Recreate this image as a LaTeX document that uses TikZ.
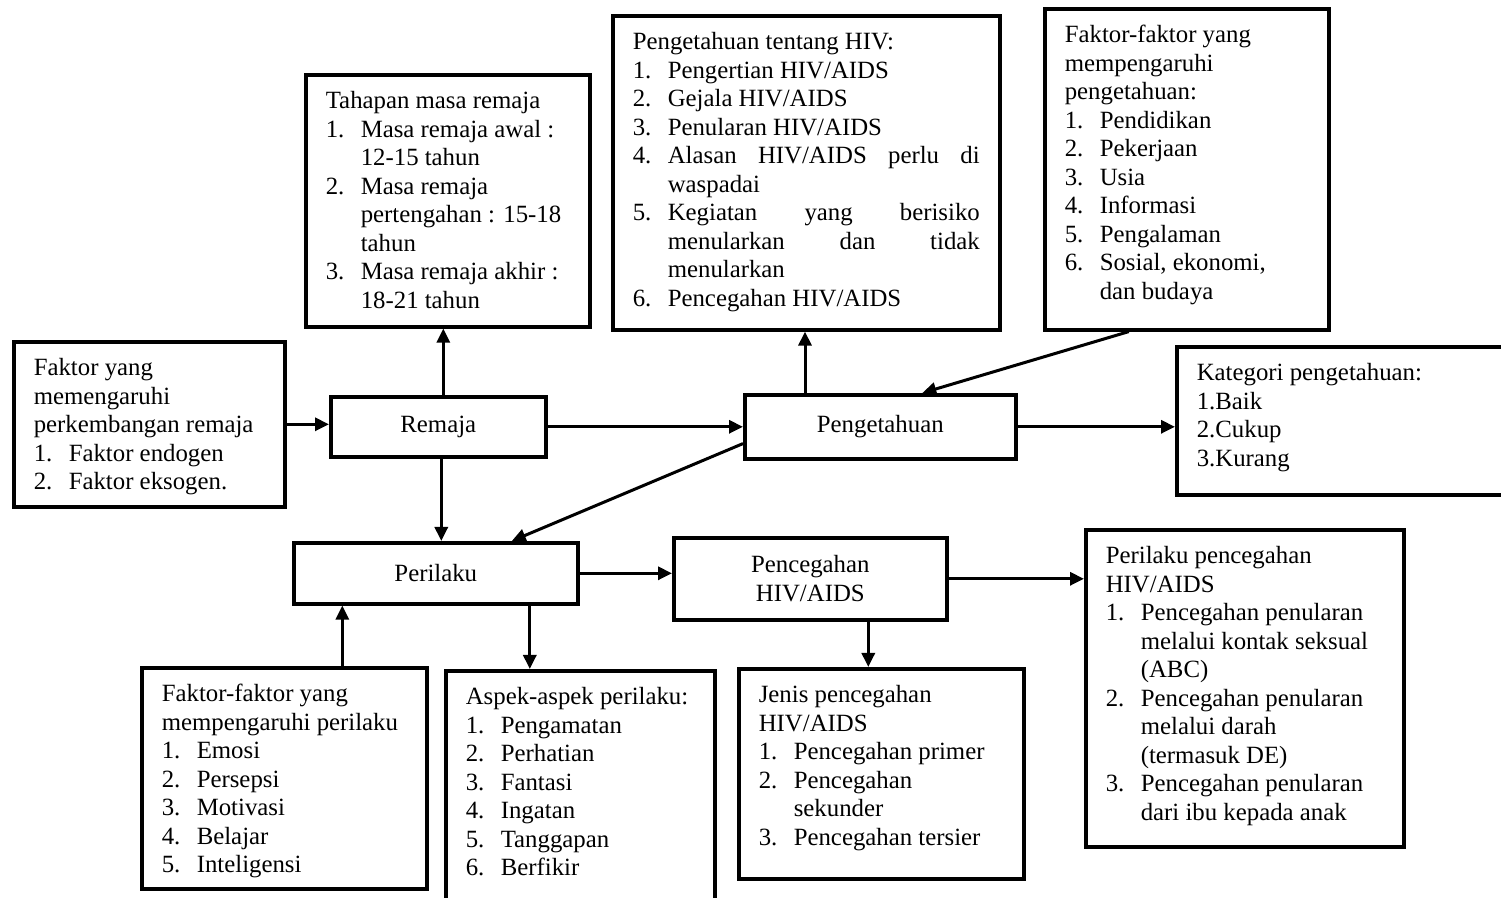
\documentclass[tikz,border=0pt]{standalone}
\usepackage{fontspec}
\setmainfont{Liberation Serif}
\usetikzlibrary{arrows.meta}
\newcommand{\itm}[1]{\makebox[17.5pt][l]{#1}}
\newcommand{\ind}{\hspace*{17.5pt}}
\newcommand{\boxtext}[3]{\begin{minipage}[c][#2][t]{#1}\raggedright\strut#3\end{minipage}}
\begin{document}
\begin{tikzpicture}[x=0.5pt,y=-0.5pt,
  every node/.style={font=\fontsize{12.4}{14.25}\selectfont},
  box/.style={draw,line width=1.8pt,anchor=north west,inner xsep=10pt,inner ysep=7pt},
  cbox/.style={draw,line width=1.8pt,anchor=north west,align=center,inner sep=0pt},
  arr/.style={-{Triangle[length=7pt,width=6.5pt]},line width=1.5pt}]
\useasboundingbox (0,0) rectangle (1501,898);
\node[box] (faktor) at (12,340) {\boxtext{115.5pt}{68.5pt}{Faktor yang\\ memengaruhi\\ perkembangan remaja\\ \itm{1.}Faktor endogen\\ \itm{2.}Faktor eksogen.}};
\node[box] (tahap) at (304,73) {\boxtext{122pt}{112pt}{Tahapan masa remaja\\ \itm{1.}Masa remaja awal :\\ \ind 12-15 tahun\\ \itm{2.}Masa remaja\\ \ind pertengahan : 15-18\\ \ind tahun\\ \itm{3.}Masa remaja akhir :\\ \ind 18-21 tahun}};
\node[box] (penghiv) at (611,14) {\boxtext{173.5pt}{143pt}{Pengetahuan tentang HIV:\\ \itm{1.}Pengertian HIV/AIDS\\ \itm{2.}Gejala HIV/AIDS\\ \itm{3.}Penularan HIV/AIDS\\ \itm{4.}\makebox[156pt][s]{Alasan HIV/AIDS perlu di}\\ \ind waspadai\\ \itm{5.}\makebox[156pt][s]{Kegiatan yang berisiko}\\ \ind\makebox[156pt][s]{menularkan dan tidak}\\ \ind menularkan\\ \itm{6.}Pencegahan HIV/AIDS}};
\node[box] (fpeng) at (1043,7) {\boxtext{122pt}{146.5pt}{Faktor-faktor yang\\ mempengaruhi\\ pengetahuan:\\ \itm{1.}Pendidikan\\ \itm{2.}Pekerjaan\\ \itm{3.}Usia\\ \itm{4.}Informasi\\ \itm{5.}Pengalaman\\ \itm{6.}Sosial, ekonomi,\\ \ind dan budaya}};
\node[box] (kat) at (1175,345) {\boxtext{157.5pt}{60pt}{Kategori pengetahuan:\\ 1.Baik\\ 2.Cukup\\ 3.Kurang}};
\node[cbox,minimum width=107.5pt,minimum height=30pt] (remaja) at (329,395) {Remaja};
\node[cbox,minimum width=135.5pt,minimum height=32pt] (penget) at (743,393) {Pengetahuan};
\node[cbox,minimum width=142pt,minimum height=30.5pt] (perilaku) at (292,541) {Perilaku};
\node[cbox,minimum width=136.5pt,minimum height=41pt] (cegah) at (672,536) {Pencegahan\\ HIV/AIDS};
\node[box] (ppenc) at (1084,528) {\boxtext{139pt}{144.5pt}{Perilaku pencegahan\\ HIV/AIDS\\ \itm{1.}Pencegahan penularan\\ \ind melalui kontak seksual\\ \ind (ABC)\\ \itm{2.}Pencegahan penularan\\ \ind melalui darah\\ \ind (termasuk DE)\\ \itm{3.}Pencegahan penularan\\ \ind dari ibu kepada anak}};
\node[box] (fper) at (140,666) {\boxtext{122.5pt}{96.5pt}{Faktor-faktor yang\\ mempengaruhi perilaku\\ \itm{1.}Emosi\\ \itm{2.}Persepsi\\ \itm{3.}Motivasi\\ \itm{4.}Belajar\\ \itm{5.}Inteligensi}};
\node[box] (aspek) at (444,669) {\boxtext{114.5pt}{116.5pt}{Aspek-aspek perilaku:\\ \itm{1.}Pengamatan\\ \itm{2.}Perhatian\\ \itm{3.}Fantasi\\ \itm{4.}Ingatan\\ \itm{5.}Tanggapan\\ \itm{6.}Berfikir}};
\node[box] (jenis) at (737,667) {\boxtext{122.5pt}{91pt}{Jenis pencegahan\\ HIV/AIDS\\ \itm{1.}Pencegahan primer\\ \itm{2.}Pencegahan\\ \ind sekunder\\ \itm{3.}Pencegahan tersier}};
\draw[arr] (faktor.east) -- (faktor.east -| remaja.west);
\draw[arr] ([xshift=2.5pt]remaja.north) coordinate (r1) -- (r1 |- tahap.south);
\draw[arr] ([xshift=1.5pt]remaja.south) coordinate (r2) -- (r2 |- perilaku.north);
\draw[arr] (remaja.east) -- (remaja.east -| penget.west);
\draw[arr] ([xshift=31pt]penget.north west) coordinate (p1) -- (p1 |- penghiv.south);
\draw[arr] ([xshift=-29pt]fpeng.south) -- ([xshift=21pt]penget.north);
\draw[arr] (penget.east) -- (penget.east -| kat.west);
\draw[arr] ([yshift=8.5pt]penget.south west) -- ([xshift=38pt]perilaku.north);
\draw[arr] (perilaku.east) -- (perilaku.east -| cegah.west);
\draw[arr] (cegah.east) -- (cegah.east -| ppenc.west);
\draw[arr] ([xshift=29pt]cegah.south) coordinate (c1) -- (c1 |- jenis.north);
\draw[arr] ([xshift=29pt]fper.north) coordinate (f1) -- (f1 |- perilaku.south);
\draw[arr] ([xshift=47pt]perilaku.south) coordinate (a1) -- (a1 |- aspek.north);
\end{tikzpicture}
\end{document}
